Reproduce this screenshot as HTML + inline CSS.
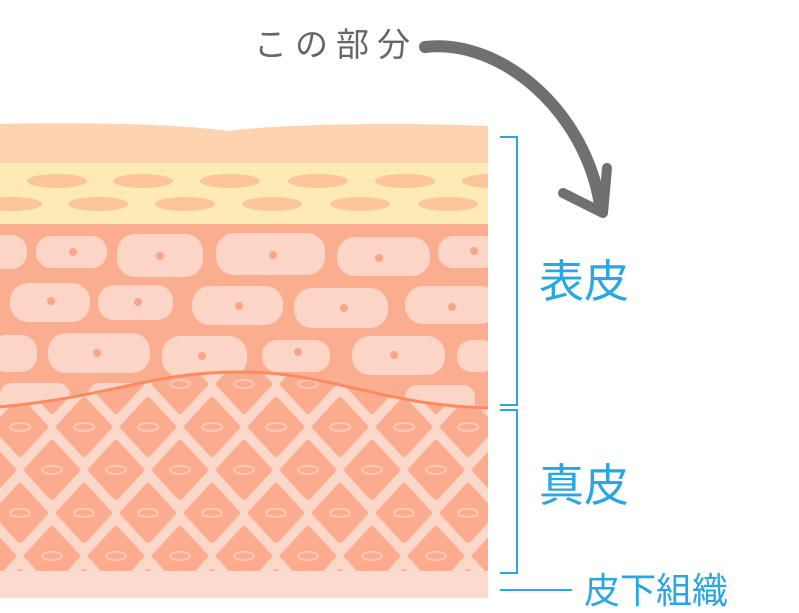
<!DOCTYPE html>
<html><head><meta charset="utf-8"><style>
html,body{margin:0;padding:0;background:#fff;}
svg{display:block;}
</style></head><body>
<svg width="799" height="613" viewBox="0 0 799 613" xmlns="http://www.w3.org/2000/svg">
<defs>
<pattern id="dia" x="-12" y="384" width="64" height="86" patternUnits="userSpaceOnUse">
<rect width="64" height="86" fill="#fcd8ca"/>
<g fill="#fbac8e" stroke="#fbac8e" stroke-width="6" stroke-linejoin="round">
<polygon points="32,16 57,43 32,70 7,43"/>
<polygon points="0,-27 25,0 0,27 -25,0"/>
<polygon points="64,-27 89,0 64,27 39,0"/>
<polygon points="0,59 25,86 0,113 -25,86"/>
<polygon points="64,59 89,86 64,113 39,86"/>
</g>
<g fill="none" stroke="#fdc9b5" stroke-width="2">
<ellipse cx="32" cy="43" rx="10" ry="4"/>
<ellipse cx="0" cy="0" rx="10" ry="4"/>
<ellipse cx="64" cy="0" rx="10" ry="4"/>
<ellipse cx="0" cy="86" rx="10" ry="4"/>
<ellipse cx="64" cy="86" rx="10" ry="4"/>
</g>
</pattern>
<clipPath id="epi"><path d="M0,224 H488 V408 C380,405 330,372 240,372 C150,372 120,395 0,407 Z"/></clipPath>
<clipPath id="all"><rect x="0" y="0" width="488" height="613"/></clipPath>
</defs>
<g clip-path="url(#all)">
<rect x="0" y="370" width="488" height="202" fill="url(#dia)"/>
<rect x="0" y="571" width="488" height="27" fill="#fdd9cf"/>
<path d="M0,124 C80,122 180,124 228,131 C280,124 400,122 488,126 V164 H0 Z" fill="#fdd3b0"/>
<rect x="0" y="163" width="488" height="61" fill="#fdeab4"/>
<g fill="#fcc59a">
<ellipse cx="57" cy="181" rx="30" ry="7"/><ellipse cx="143" cy="181" rx="30" ry="7"/><ellipse cx="230" cy="181" rx="30" ry="7"/><ellipse cx="318" cy="181" rx="30" ry="7"/><ellipse cx="405" cy="181" rx="30" ry="7"/><ellipse cx="492" cy="181" rx="30" ry="7"/>
<ellipse cx="12" cy="204" rx="30" ry="7"/><ellipse cx="98" cy="204" rx="30" ry="7"/><ellipse cx="185" cy="204" rx="30" ry="7"/><ellipse cx="272" cy="204" rx="30" ry="7"/><ellipse cx="360" cy="204" rx="30" ry="7"/><ellipse cx="448" cy="204" rx="30" ry="7"/>
</g>
<g clip-path="url(#epi)">
<rect x="0" y="224" width="488" height="200" fill="#fbad8f"/>
<g fill="#fdd5c6">
<rect x="-20" y="235" width="47" height="34" rx="16"/>
<rect x="36" y="236" width="71" height="32" rx="15"/>
<rect x="117" y="234" width="86" height="43" rx="18"/>
<rect x="216" y="233" width="109" height="42" rx="18"/>
<rect x="337" y="237" width="93" height="39" rx="18"/>
<rect x="438" y="236" width="60" height="32" rx="15"/>
<rect x="10" y="283" width="80" height="39" rx="18"/>
<rect x="98" y="285" width="75" height="35" rx="16"/>
<rect x="192" y="286" width="91" height="39" rx="18"/>
<rect x="294" y="288" width="94" height="40" rx="18"/>
<rect x="405" y="286" width="93" height="38" rx="18"/>
<rect x="-10" y="335" width="47" height="37" rx="16"/>
<rect x="48" y="333" width="102" height="40" rx="18"/>
<rect x="162" y="336" width="85" height="41" rx="18"/>
<rect x="262" y="340" width="68" height="32" rx="15"/>
<rect x="352" y="336" width="93" height="39" rx="18"/>
<rect x="457" y="340" width="40" height="32" rx="15"/>
<rect x="0" y="383" width="70" height="30" rx="12"/>
<rect x="88" y="383" width="60" height="30" rx="12"/>
<rect x="405" y="385" width="70" height="30" rx="12"/>
</g>
<g fill="#f9a58b">
<circle cx="73" cy="252" r="4"/><circle cx="160" cy="256" r="4"/><circle cx="273" cy="255" r="4"/><circle cx="379" cy="258" r="4"/><circle cx="474" cy="251" r="4"/>
<circle cx="51" cy="301" r="4"/><circle cx="138" cy="302" r="4"/><circle cx="239" cy="306" r="4"/><circle cx="344" cy="308" r="4"/><circle cx="452" cy="307" r="4"/>
<circle cx="97" cy="353" r="4"/><circle cx="202" cy="356" r="4"/><circle cx="298" cy="352" r="4"/><circle cx="394" cy="355" r="4"/>
</g>
</g>
<path d="M0,407 C120,395 150,372 240,372 C330,372 380,405 488,408" fill="none" stroke="#fd8a62" stroke-width="3"/>
</g>
<g fill="none" stroke="#2aa6e0" stroke-width="2">
<polyline points="500,137 517,137 517,405 500,405"/>
<polyline points="500,410 517,410 517,573 500,573"/>
<line x1="500" y1="590" x2="572" y2="590"/>
</g>
<g fill="#2aa6e0" font-family="'Liberation Sans','Noto Sans CJK JP',sans-serif">
<text x="539" y="297" font-size="45">表皮</text>
<text x="539" y="501" font-size="45">真皮</text>
<text x="584" y="603" font-size="36">皮下組織</text>
</g>
<text x="254" y="56" font-size="33" fill="#666" letter-spacing="8" font-family="'Liberation Sans','Noto Sans CJK JP',sans-serif">この部分</text>
<path d="M425,47 C500,38 585,110 600,205" fill="none" stroke="#707070" stroke-width="12" stroke-linecap="round"/>
<path d="M563,193 L603,213 L607,168" fill="none" stroke="#707070" stroke-width="10" stroke-linejoin="round" stroke-linecap="round"/>
</svg>
</body></html>
